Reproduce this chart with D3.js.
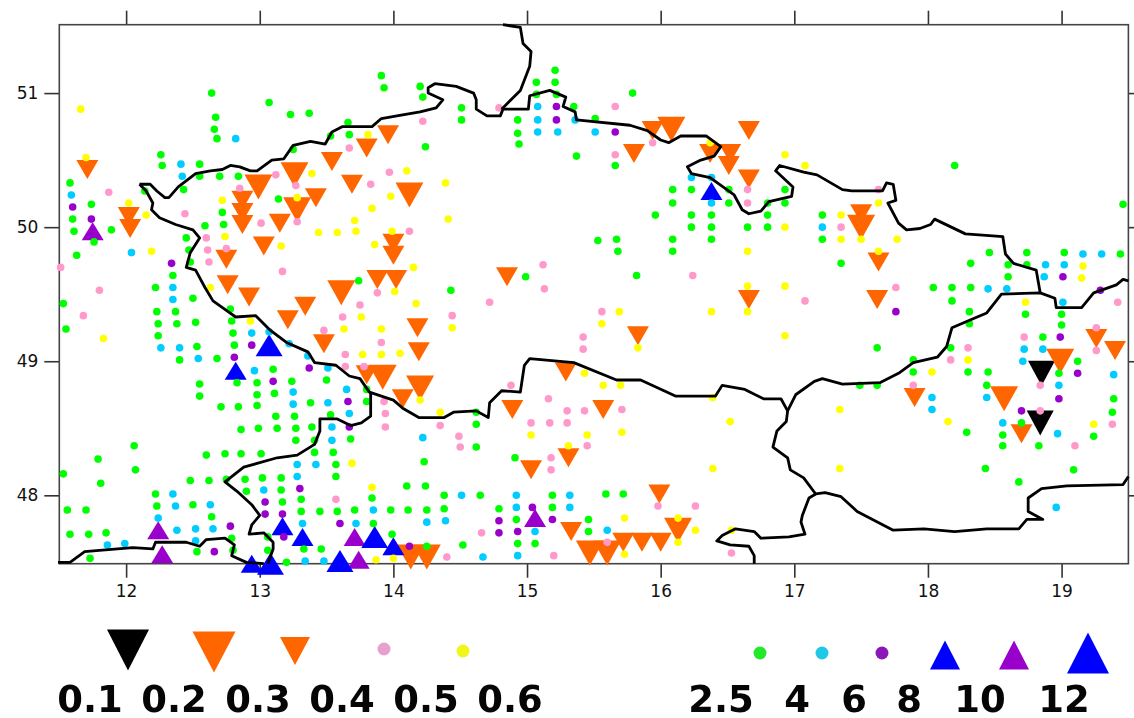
<!DOCTYPE html>
<meta charset="utf-8">
<style>
  body { margin: 0; background: #fff; }
  text { font-family: "DejaVu Sans", sans-serif; fill: #111; }
</style>

<!-- Load d3.js -->
<script src="https://d3js.org/d3.v7.min.js"></script>

<div id="my_dataviz"></div>

<script>

// stations as [lon, lat], one list per class
var v01 = [[18.85,48.91],[18.84,48.54]];
var v02 = [[12.99,50.30],[13.26,50.39],[13.28,50.13],[14.12,50.24],[13.61,49.51],[14.20,48.80],[13.92,48.88],[14.13,47.54],[14.25,47.54],
  [16.08,50.73],[16.13,47.74],[15.47,47.57],[15.60,47.57],[17.50,50.00],[18.99,49.00],[18.57,48.72]];
var v03 = [[11.71,50.43],[12.02,50.08],[12.03,49.99],[12.87,50.20],[12.87,50.11],[12.87,50.02],[13.15,50.03],[13.42,50.22],[13.03,49.86],[12.75,49.76],
  [13.54,50.49],[13.69,50.32],[13.80,50.59],[13.96,50.69],[14.00,49.88],[14.00,49.79],[13.88,49.61],[14.02,49.61],[12.76,49.57],[12.92,49.48],
  [13.21,49.31],[13.34,49.41],[13.48,49.13],[14.18,49.25],[14.19,49.07],[13.80,48.90],[14.07,48.72],
  [15.94,50.72],[15.80,50.55],[16.37,50.55],[16.52,50.55],[16.51,50.46],[16.66,50.36],[16.66,50.72],[14.85,49.63],
  [15.83,49.19],[16.66,49.46],[15.29,48.92],[14.89,48.64],[15.57,48.64],[15.31,48.28],[15.03,48.19],[15.99,48.01],[15.33,47.73],[15.72,47.65],[15.86,47.65],[16.00,47.65],
  [17.50,50.10],[17.63,49.74],[17.62,49.46],[19.26,49.17],[19.40,49.08],[17.90,48.73],[18.70,48.46]];
var v04 = [[11.87,50.26],[11.51,49.70],[12.44,50.10],[12.60,49.92],[12.61,49.83],[12.62,49.74],[12.75,49.84],[12.85,50.29],[13.12,50.39],[13.01,50.03],
  [13.27,50.31],[13.28,50.04],[13.67,50.59],[13.97,50.41],[13.83,50.32],[14.22,50.79],[14.12,49.97],[13.17,49.67],[11.80,49.53],
  [11.68,49.34],[13.75,49.42],[13.62,49.33],[13.48,49.23],[13.64,49.05],[13.64,48.96],[13.78,48.96],[13.91,49.14],[13.88,49.51],[13.93,48.70],[13.94,48.61],[13.94,48.51],[13.57,47.97],
  [14.79,50.89],[15.66,50.90],[15.66,50.54],[15.94,50.63],[16.65,50.28],[16.65,50.18],[15.12,49.72],[15.13,49.54],[16.24,49.64],[14.72,49.44],
  [14.44,49.34],[14.88,48.82],[15.16,48.72],[15.30,48.63],[15.43,48.63],[15.71,48.64],[15.03,48.54],[15.17,48.54],[15.30,48.54],[14.35,48.52],[14.49,48.44],[14.50,48.36],[15.45,48.37],
  [15.18,48.28],[15.18,48.19],[15.42,49.18],[15.42,49.09],[15.56,49.37],[15.98,47.92],[16.26,47.92],[14.66,47.72],[15.60,47.65],[14.40,47.54],[15.20,47.55],[16.53,47.57],
  [17.63,50.28],[17.35,50.00],[17.76,49.55],[17.08,49.45],[19.42,49.44],[18.72,49.18],[18.30,49.10],[18.17,49.01],[19.26,49.25],[19.26,49.08],[18.84,48.82],[18.84,48.63],[17.89,48.82],[19.38,48.53],[19.10,48.37]];
var v05 = [[11.66,50.88],[11.70,50.52],[12.02,50.18],[12.15,50.09],[12.19,49.82],[12.72,50.20],[12.74,49.93],[13.39,50.40],[13.28,50.22],[13.81,50.69],[14.10,50.42],[13.98,50.23],
  [13.84,50.14],[13.71,50.05],[13.72,49.97],[13.58,49.96],[13.44,49.96],[13.99,49.97],[13.86,49.87],[13.16,49.86],[14.15,49.70],[14.01,49.52],[12.63,49.55],
  [11.83,49.17],[12.93,49.30],[13.76,49.33],[13.63,49.24],[13.91,49.24],[13.77,49.05],[13.91,49.05],[14.05,49.06],[14.17,49.43],[14.20,48.71],[13.69,48.24],[13.84,48.06],[13.87,47.52],[14.00,47.53],
  [16.37,50.63],[16.93,50.54],[14.39,50.33],[14.41,50.06],[16.65,49.82],[16.93,50.00],[16.65,49.56],[16.93,49.56],
  [14.44,49.25],[15.56,49.28],[15.69,49.37],[16.38,49.37],[16.65,49.37],[15.83,49.10],[16.93,49.19],[14.35,48.62],[15.43,48.91],[15.57,48.82],[15.70,48.82],[16.39,48.73],[16.52,48.55],
  [15.03,48.45],[15.45,48.45],[15.71,48.47],[15.31,48.37],[16.39,48.20],[15.73,47.83],[16.13,47.83],[16.26,47.74],[16.13,47.65],[15.73,47.56],[16.53,47.74],
  [17.08,50.46],[17.63,50.18],[17.35,50.09],[17.35,49.91],[17.50,49.91],[17.77,49.91],[17.63,49.82],[19.16,49.71],[19.15,49.62],
  [18.73,49.44],[18.03,48.92],[18.30,49.01],[18.15,48.55],[17.34,48.64],[17.34,48.20],[19.24,48.53]];
var v25 = [[12.64,51.00],[12.67,50.82],[12.66,50.73],[12.68,50.66],[13.07,50.93],[13.23,50.84],[13.37,50.85],[13.91,51.13],[13.93,51.04],[14.20,51.05],[14.22,50.97],[13.66,50.78],[13.67,50.69],
  [13.53,50.68],[13.25,50.58],[14.24,50.60],[12.26,50.54],[12.27,50.46],[12.55,50.47],[12.55,50.38],[12.70,50.38],[12.84,50.38],[11.58,50.33],[11.74,50.17],[11.60,50.06],[11.61,49.97],[11.76,49.89],
  [11.89,49.98],[11.63,49.79],[12.14,50.27],[12.43,50.28],[13.14,50.21],[12.72,50.11],[12.73,50.02],[12.59,50.01],[12.45,49.92],[12.47,49.83],[12.48,49.74],[12.35,49.64],[13.74,49.60],
  [11.53,49.43],[11.55,49.24],[12.22,49.55],[12.50,49.47],[12.23,49.37],[12.37,49.37],[12.24,49.28],[12.38,49.28],[12.24,49.19],[12.52,49.29],[12.53,49.11],[12.40,49.01],[12.68,49.02],
  [12.78,49.39],[12.79,49.30],[12.80,49.21],[12.81,49.12],[13.10,48.94],[12.55,48.83],[12.55,48.74],[12.83,48.84],[12.98,48.84],[12.98,48.75],[13.11,48.76],[13.24,48.85],[12.71,48.66],[12.84,48.66],
  [12.98,48.67],[13.38,48.69],[13.50,48.86],[13.80,48.79],[13.80,48.70],[13.53,48.60],[13.12,48.59],[13.26,48.59],[12.86,48.49],[12.99,48.50],[13.13,48.50],[13.27,48.50],[13.39,48.51],[13.27,48.41],
  [13.41,48.41],[13.68,48.42],[12.06,48.37],[12.07,48.19],[11.79,48.27],[11.53,48.16],[11.81,48.09],[12.60,48.30],[12.74,48.31],[12.86,48.31],[13.01,48.31],[13.41,48.32],[13.55,48.32],[13.57,48.23],
  [13.57,48.14],[12.48,48.11],[12.62,48.11],[12.75,48.12],[12.89,48.12],[13.02,48.13],[13.16,48.13],[12.90,48.03],[13.16,48.04],[13.17,47.95],[13.31,47.97],[13.31,47.88],[13.45,47.88],[13.58,47.88],
  [13.71,47.89],[13.84,47.98],[13.98,47.89],[14.11,47.89],[14.25,47.89],[14.10,48.07],[14.24,48.07],[14.23,48.25],[12.22,48.01],[12.23,47.92],[12.50,47.93],[12.64,47.84],[11.56,47.89],[11.70,47.89],
  [11.58,47.71],[11.72,47.71],[11.85,47.72],[11.73,47.53],[12.53,47.58],[12.79,47.68],[12.80,47.59],[13.06,47.69],[13.06,47.59],[13.20,47.50],[13.33,47.60],[13.46,47.60],[13.85,47.79],[13.99,47.71],[14.25,47.62],
  [15.21,51.17],[15.07,51.08],[15.21,51.08],[15.07,50.99],[15.22,50.99],[15.35,50.90],[15.51,50.81],[14.51,50.89],[14.51,50.80],[14.93,50.80],[14.93,50.70],[14.94,50.62],[15.37,50.53],[15.66,50.46],[15.79,51.00],
  [16.09,50.28],[16.23,50.28],[16.09,50.18],[15.96,50.09],[16.23,50.09],[16.38,50.09],[16.23,50.00],[16.38,50.00],[16.38,49.91],[16.09,49.91],[16.09,49.82],[15.53,49.90],[15.67,49.91],[15.68,49.82],
  [16.51,50.28],[16.51,50.18],[16.80,50.18],[16.93,50.28],[16.93,50.18],[16.80,50.09],[16.65,50.00],[16.80,50.00],[15.82,49.64],[14.99,49.63],[14.43,49.53],
  [14.62,48.62],[14.62,48.53],[14.62,48.36],[14.91,48.28],[14.38,48.00],[14.65,48.00],[14.38,47.90],[14.79,47.90],[14.92,47.82],[15.19,48.00],[15.19,47.91],[15.06,47.64],[14.93,47.64],[14.52,47.63],
  [15.46,47.82],[15.46,47.73],[15.59,48.01],[15.72,48.01],
  [18.20,50.46],[19.46,50.17],[17.21,50.09],[17.35,49.73],[17.21,49.91],[18.46,49.81],[18.74,49.81],[19.02,49.81],[19.44,49.80],[18.32,49.73],[18.60,49.72],[18.74,49.72],[18.60,49.63],[18.04,49.55],[18.18,49.55],[18.32,49.55],
  [18.18,49.45],[18.31,49.37],[18.31,49.28],[18.73,49.35],[19.00,49.35],[19.00,49.27],[18.86,49.18],[17.62,49.10],[18.17,49.10],[17.89,49.01],[17.89,48.92],[18.30,48.92],[18.45,48.92],[18.44,48.82],
  [17.49,48.82],[17.62,48.82],[19.12,49.00],[18.98,48.91],[19.39,48.72],[19.38,48.62],[18.70,48.54],[18.29,48.47],[18.56,48.45],[18.56,48.37],[18.83,48.37],[19.24,48.44],[18.43,48.20],[19.09,48.19],[18.68,48.10]];
var v4 = [[12.82,50.66],[12.41,50.47],[12.42,50.38],[11.59,50.24],[12.04,49.81],
  [12.35,49.55],[12.35,49.46],[12.26,49.10],[12.40,49.10],[12.54,49.02],[12.94,49.21],[13.07,49.22],[13.22,49.13],[13.36,49.04],[13.51,48.95],[12.96,48.93],[13.25,48.77],[13.25,48.68],[13.51,48.69],
  [13.65,48.79],[13.67,48.61],[13.54,48.51],[13.54,48.41],[14.22,48.43],[13.28,48.23],[13.42,48.23],[13.28,48.14],[13.03,48.04],[12.35,48.01],[12.37,47.92],[12.63,47.93],[12.24,47.83],[12.38,47.74],
  [12.52,47.75],[12.65,47.75],[12.52,47.66],[11.86,47.63],[11.99,47.64],[13.32,47.79],[13.72,47.79],[13.85,47.89],[14.25,47.80],[13.34,47.51],[13.48,47.51],
  [15.08,50.90],[15.08,50.80],[15.08,50.71],[15.23,50.71],[15.36,50.80],[15.51,50.71],[16.23,50.37],[16.38,50.37],[16.38,50.18],
  [14.51,48.00],[14.92,48.00],[14.92,47.91],[15.32,48.00],[15.32,47.91],[14.39,47.81],[15.06,47.73],[15.60,47.74],[14.67,47.54],[14.93,47.55],
  [17.21,50.00],[18.88,49.72],[19.02,49.72],[19.16,49.80],[19.30,49.80],[18.87,49.63],[18.45,49.54],[18.59,49.54],
  [19.01,49.44],[18.72,49.09],[18.86,49.09],[18.71,49.00],[18.98,48.82],[19.39,48.90],[18.03,48.73],[18.03,48.64],[18.44,48.73],[18.56,48.54],[18.97,48.46],[18.96,47.91]];
var v6 = [[11.60,50.15],[11.74,50.06],[12.34,49.73],
  [12.94,49.12],[12.81,49.03],[13.37,48.95],[13.10,48.85],[13.66,48.70],[13.67,48.51],[13.30,48.05],[13.04,47.95],[13.04,47.86],[13.17,47.86],[12.78,47.77],[13.60,47.79],[13.18,47.69],[12.66,47.58],[14.12,47.62],
  [15.22,50.90],[15.22,50.80],[15.66,50.71],[14.79,47.81],[14.79,47.72],[14.93,47.73],[15.04,47.91],[15.19,47.82],
  [19.01,49.63],[19.29,49.53],[17.76,49.37],[18.99,49.18],[19.12,48.91],[18.98,48.72],[18.70,48.63]];
var v8 = [[12.82,48.93],[13.17,47.77],[13.32,47.69],[14.00,47.62],[12.94,47.49],[16.38,50.27]];
var v10 = [[11.75,49.97],[12.24,47.74],[12.27,47.56],[13.71,47.69],[13.74,47.52],[15.06,47.83]];
var v12 = [[13.07,49.12],[13.86,47.69],[13.60,47.51],[13.08,47.49]];

// borders as lines of [lon, lat]
var borderNorth = [[12.10,50.32],[12.18,50.32],[12.23,50.27],[12.29,50.22],[12.32,50.22],[12.39,50.30],[12.52,50.40],[12.63,50.42],[12.72,50.43],[12.78,50.46],[12.85,50.45],[12.93,50.42],[12.98,50.42],
  [13.09,50.50],[13.18,50.51],[13.25,50.61],[13.38,50.64],[13.49,50.62],[13.54,50.71],[13.62,50.75],[13.84,50.75],[13.91,50.81],[14.08,50.84],[14.20,50.86],[14.32,50.89],[14.37,50.95],[14.26,51.00],[14.26,51.04],
  [14.31,51.07],[14.47,51.05],[14.60,51.00],[14.62,50.95],[14.62,50.88],[14.70,50.83],[14.80,50.83],[14.82,50.88],[15.01,50.88],[15.02,50.98],[15.17,51.02],[15.29,50.97],[15.27,50.90],[15.36,50.86],[15.37,50.80],
  [15.77,50.76],[15.90,50.72],[16.00,50.65],[16.06,50.63],[16.15,50.68],[16.34,50.68],[16.45,50.60],[16.40,50.53],[16.30,50.50],[16.20,50.45],[16.23,50.40],[16.37,50.37],[16.55,50.24],[16.61,50.13],[16.66,50.10],
  [16.75,50.12],[16.81,50.19],[16.98,50.23],[16.99,50.30],[16.86,50.42],[16.89,50.46],[17.07,50.41],[17.17,50.39],[17.36,50.28],[17.43,50.27],[17.66,50.27],[17.69,50.33],[17.74,50.32],[17.76,50.20],[17.70,50.18],
  [17.78,50.03],[17.84,49.98],[17.94,49.99],[18.02,50.02],[18.05,50.06],[18.28,49.95],[18.56,49.93],[18.58,49.80],[18.64,49.73],[18.81,49.68],[18.84,49.51]];
var borderSouth = [[12.10,50.32],[12.15,50.27],[12.20,50.18],[12.19,50.13],[12.25,50.07],[12.37,50.02],[12.50,49.98],[12.55,49.92],[12.48,49.81],[12.45,49.70],[12.52,49.68],[12.59,49.55],[12.65,49.45],[12.75,49.38],
  [12.82,49.33],[12.97,49.34],[13.08,49.23],[13.20,49.14],[13.36,49.07],[13.41,48.99],[13.57,48.97],[13.67,48.89],[13.75,48.87],[13.82,48.77],[14.00,48.71],[14.07,48.65],[14.19,48.58],[14.38,48.58],[14.45,48.62],
  [14.62,48.63],[14.71,48.58],[14.72,48.69],[14.81,48.78],[14.95,48.77],[14.98,48.97],[15.02,49.02],[15.35,48.99],[15.67,48.86],[15.85,48.86],[16.11,48.74],[16.41,48.74],[16.46,48.82],[16.63,48.79],[16.77,48.72],
  [16.90,48.72],[16.95,48.63]];
var borderSlovakNorth = [[16.95,48.63],[17.01,48.75],[17.15,48.85],[17.21,48.87],[17.36,48.83],[17.64,48.84],[17.78,48.91],[17.89,48.99],[18.07,49.03],[18.14,49.11],[18.18,49.25],[18.32,49.31],[18.44,49.36],[18.55,49.50],
  [18.84,49.51],[18.95,49.47],[18.96,49.40],[19.15,49.40],[19.24,49.51],[19.41,49.57],[19.46,49.61],[19.50,49.60]];
var borderSlovakSouth = [[16.95,48.63],[16.94,48.55],[16.87,48.48],[16.84,48.36],[16.95,48.28],[16.97,48.19],[17.07,48.13],[17.16,48.01],[17.23,48.02],[17.35,47.99],[17.47,47.88],[17.74,47.74],[17.97,47.75],[18.20,47.73],
  [18.44,47.75],[18.68,47.75],[18.74,47.82],[18.86,47.82],[18.75,47.88],[18.75,47.98],[18.85,48.05],[19.04,48.07],[19.46,48.08],[19.50,48.14]];
var borderHungary = [[17.16,48.01],[17.11,47.98],[17.06,47.85],[17.05,47.80],[17.08,47.71],[16.96,47.69],[16.75,47.68],[16.70,47.73],[16.56,47.75],[16.46,47.70],[16.42,47.66],[16.52,47.63],[16.66,47.62],[16.70,47.55],[16.70,47.49]];
var borderAlps = [[11.49,47.50],[11.58,47.50],[11.69,47.58],[11.80,47.59],[12.05,47.61],[12.20,47.60],[12.22,47.65],[12.45,47.65],[12.55,47.62],[12.60,47.67],[12.74,47.68],[12.81,47.63],[12.79,47.55],[12.90,47.50],[13.03,47.49]];
var borderBavaria = [[13.06,47.49],[13.10,47.60],[13.10,47.65],[13.03,47.72],[12.92,47.71],[12.94,47.78],[13.00,47.85],[12.94,47.93],[12.83,48.03],[12.74,48.10],[12.88,48.21],[13.13,48.28],[13.28,48.30],[13.41,48.38],
  [13.45,48.48],[13.45,48.57],[13.58,48.57],[13.68,48.52],[13.76,48.54],[13.83,48.59],[13.83,48.77]];
var borderPoland = [[14.82,51.51],[14.95,51.49],[14.97,51.37],[15.03,51.31],[15.02,51.20],[14.95,51.02],[14.81,50.88]];

var lonTicks = [12, 13, 14, 15, 16, 17, 18, 19];
var latTicks = [48, 49, 50, 51];
var lowLabels = ["0.1", "0.2", "0.3", "0.4", "0.5", "0.6"];
var highLabels = ["2.5", "4", "6", "8", "10", "12"];

var width = 1134, height = 718;
var left = 59.3, right = 1128.4, top_ = 24.7, bottom = 563.7;

var svg = d3.select("#my_dataviz").append("svg")
    .attr("width", width)
    .attr("height", height)
    .style("display", "block");

var x = d3.scaleLinear().domain([11.5, 19.5]).range([left, right]);
var y = d3.scaleLinear().domain([47.49, 51.51]).range([bottom, top_]);

var BLACK = "#000000", ORANGE = "#ff6600", PINK = "#ff99cc", YELLOW = "#ffff00",
    GREEN = "#00ff00", CYAN = "#00ccff", PURPLE = "#9900cc", BLUE = "#0000ff";

// triangle path around its centre, dir 1 points down, -1 points up
function tri(w, h, dir) {
    return "M" + (-w / 2) + "," + (-dir * h / 2) + "L" + (w / 2) + "," + (-dir * h / 2) + "L0," + (dir * h / 2) + "Z";
}

function triangles(data, color, w, h, dir) {
    svg.append("g").selectAll("path").data(data).enter().append("path")
        .attr("d", tri(w, h, dir))
        .attr("transform", function(d) { return "translate(" + x(d[0]) + "," + y(d[1]) + ")"; })
        .style("fill", color);
}

function dots(data, color) {
    svg.append("g").selectAll("circle").data(data).enter().append("circle")
        .attr("cx", function(d) { return x(d[0]); })
        .attr("cy", function(d) { return y(d[1]); })
        .attr("r", 3.8)
        .style("fill", color);
}

// frame and ticks
function styleAxis(g) {
    g.select(".domain").remove();
    g.selectAll(".tick line").attr("stroke", "#333").attr("stroke-width", 1.6);
    g.selectAll("text").style("font-size", "17px").style("font-family", '"DejaVu Sans", sans-serif').attr("fill", "#111");
}

svg.append("g").attr("transform", "translate(0," + top_ + ")")
    .call(d3.axisTop(x).tickValues(lonTicks).tickSize(14).tickFormat("")).call(styleAxis);
svg.append("g").attr("transform", "translate(0," + bottom + ")")
    .call(d3.axisBottom(x).tickValues(lonTicks).tickSize(14).tickPadding(7).tickFormat(d3.format("d"))).call(styleAxis);
svg.append("g").attr("transform", "translate(" + left + ",0)")
    .call(d3.axisLeft(y).tickValues(latTicks).tickSize(15).tickPadding(6).tickFormat(d3.format("d"))).call(styleAxis);
svg.append("g").attr("transform", "translate(" + right + ",0)")
    .call(d3.axisRight(y).tickValues(latTicks).tickSize(14).tickFormat("")).call(styleAxis);

svg.append("rect")
    .attr("x", left).attr("y", top_)
    .attr("width", right - left).attr("height", bottom - top_)
    .attr("fill", "none").attr("stroke", "#444").attr("stroke-width", 1.6);

// stations: triangles below the dots
triangles(v01, BLACK, 27, 25, 1);
triangles(v02, ORANGE, 28, 25, 1);
triangles(v03, ORANGE, 22, 19, 1);
triangles(v8, BLUE, 22, 18, -1);
triangles(v10, PURPLE, 22, 18, -1);
triangles(v12, BLUE, 27, 22, -1);
dots(v25, GREEN);
dots(v4, CYAN);
dots(v6, PURPLE);
dots(v05, YELLOW);
dots(v04, PINK);

// borders on top
var line = d3.line().x(function(d) { return x(d[0]); }).y(function(d) { return y(d[1]); });
[borderNorth, borderSouth, borderSlovakNorth, borderSlovakSouth, borderHungary, borderAlps, borderBavaria, borderPoland].forEach(function(b) {
    svg.append("path").attr("d", line(b))
        .attr("fill", "none")
        .attr("stroke", "#000")
        .attr("stroke-width", 2.8)
        .attr("stroke-linejoin", "round");
});

// legend, pasted-in look in the original so a little soft
var legend = svg.append("g").style("filter", "blur(0.6px)");

function legendTri(cx, cy, color, w, h, dir) {
    legend.append("path").attr("d", tri(w, h, dir))
        .attr("transform", "translate(" + cx + "," + cy + ")")
        .style("fill", color);
}
function legendDot(cx, cy, color) {
    legend.append("circle").attr("cx", cx).attr("cy", cy).attr("r", 6.5).style("fill", color);
}
legendTri(128, 650, BLACK, 42, 41, 1);
legendTri(214, 652, ORANGE, 43, 41, 1);
legendTri(295, 651, ORANGE, 30, 28, 1);
legendDot(384, 649, "#e8a0d0");
legendDot(463, 651, "#f0f51a");
legendDot(760, 653, "#22e82a");
legendDot(822, 653, "#1fc8e8");
legendDot(882, 653, "#8a18b8");
legendTri(945, 655, BLUE, 30, 29, -1);
legendTri(1014, 655, PURPLE, 30, 29, -1);
legendTri(1088, 653, BLUE, 42, 41, -1);

// legend labels
var lowX = d3.scalePoint().domain(lowLabels).range([90, 510]);
var highCenters = [721, 797, 854, 909, 980, 1064];

function legendLabel(txt, cx) {
    legend.append("text").attr("x", cx).attr("y", 712)
        .attr("text-anchor", "middle")
        .style("font-size", "37px")
        .style("font-weight", "bold")
        .style("fill", "#050505")
        .text(txt);
}
lowLabels.forEach(function(t) { legendLabel(t, lowX(t)); });
highLabels.forEach(function(t, i) { legendLabel(t, highCenters[i]); });

</script>
